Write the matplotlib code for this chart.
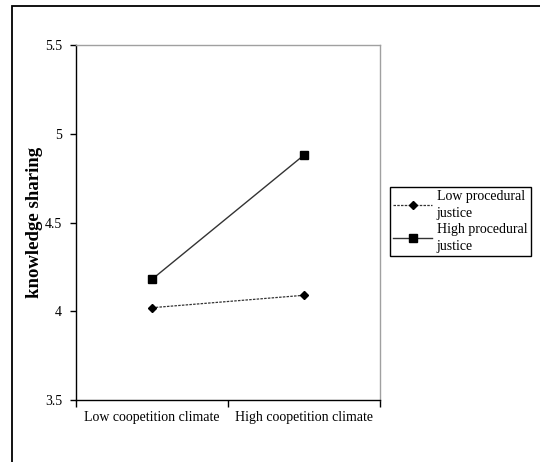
import matplotlib
matplotlib.use("Agg")
import matplotlib.pyplot as plt
from matplotlib.patches import Rectangle
from matplotlib.ticker import FixedLocator, NullFormatter

# Données
categories = ["Low coopetition climate", "High coopetition climate"]
low_pj = [4.02, 4.09]
high_pj = [4.18, 4.88]
y_ticks = [3.5, 4, 4.5, 5, 5.5]
y_tick_labels = ["3.5", "4", "4.5", "5", "5.5"]

plt.rcParams["font.family"] = ["Liberation Serif", "DejaVu Serif"]

fig = plt.figure(figsize=(5.4, 4.62), dpi=100)
fig.patch.set_facecolor("white")

# cadre extérieur (coupé à droite et en bas comme sur l'original)
fig.patches.append(Rectangle((12 / 540, -0.05), 1.0, 1 - 6 / 462 + 0.05,
                             transform=fig.transFigure, fill=False,
                             edgecolor="black", linewidth=1.3))

ax = fig.add_axes([76 / 540, 62 / 462, 304 / 540, 355 / 462])

x_pos = [0.5, 1.5]
ax.plot(x_pos, low_pj, linestyle=(0, (2, 1)), color="#333333", linewidth=0.9,
        marker="D", markersize=4, markerfacecolor="black", markeredgecolor="black",
        label="Low procedural\njustice")
ax.plot(x_pos, high_pj, linestyle="-", color="#333333", linewidth=1.0,
        marker="s", markersize=6, markerfacecolor="black", markeredgecolor="black",
        label="High procedural\njustice")

ax.set_xlim(0, 2)
ax.set_ylim(3.5, 5.5)
ax.set_yticks(y_ticks)
ax.set_yticklabels(y_tick_labels, fontsize=10)

# ticks majeurs aux limites des catégories, étiquettes au centre
ax.xaxis.set_major_locator(FixedLocator([0, 1, 2]))
ax.xaxis.set_major_formatter(NullFormatter())
ax.xaxis.set_minor_locator(FixedLocator(x_pos))
ax.set_xticklabels(categories, minor=True, fontsize=10)
ax.tick_params(axis="x", which="major", direction="out", length=5, width=1)
ax.tick_params(axis="x", which="minor", length=0, pad=8)
ax.tick_params(axis="y", direction="out", length=4, width=1, pad=6)

ax.spines["left"].set_color("black")
ax.spines["bottom"].set_color("black")
ax.spines["top"].set_color("#a0a0a0")
ax.spines["right"].set_color("#a0a0a0")
for s in ax.spines.values():
    s.set_linewidth(1.0)

ax.set_ylabel("knowledge sharing", fontsize=13.5, fontweight="bold", labelpad=1.5)

leg = ax.legend(loc="upper left", bbox_to_anchor=(390 / 540, (462 - 187) / 462),
                bbox_transform=fig.transFigure, fontsize=10, fancybox=False,
                framealpha=1, edgecolor="black", handlelength=2.8,
                handletextpad=0.3, borderpad=0.25, labelspacing=0.25,
                borderaxespad=0)
leg.get_frame().set_linewidth(1.0)
for t in leg.get_texts():
    t.set_linespacing(1.35)

fig.savefig("out.png", dpi=100)
